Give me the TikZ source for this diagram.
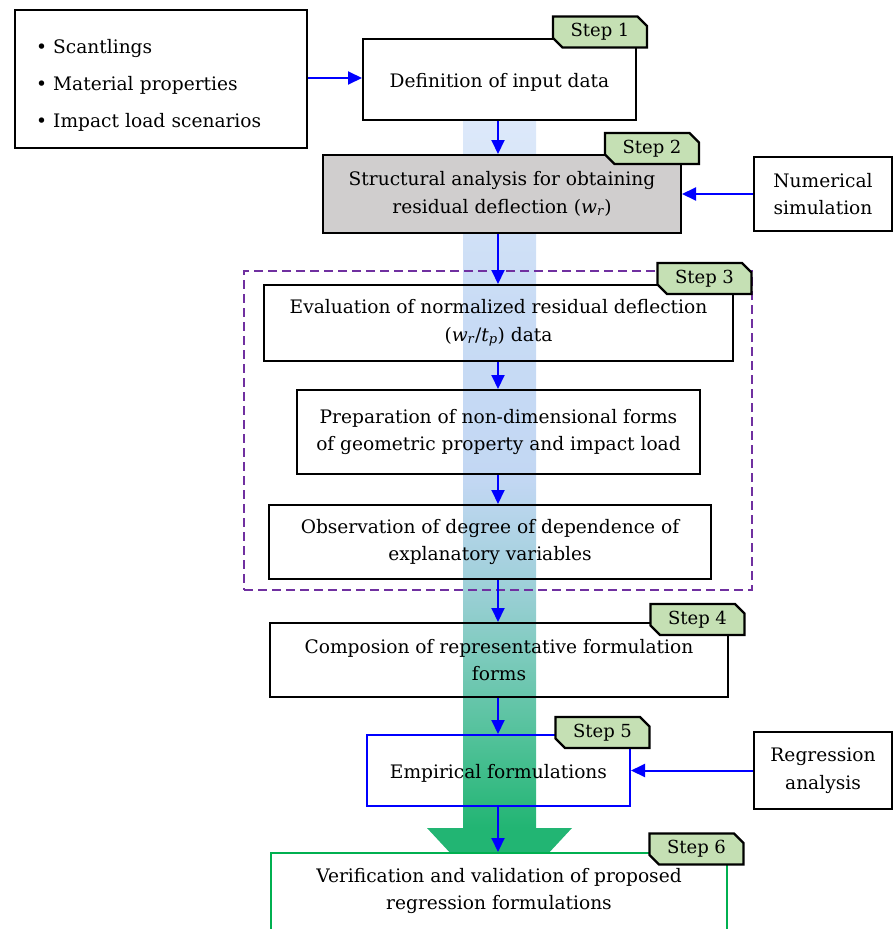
\documentclass[tikz,border=0pt]{standalone}
\usepackage{fontspec}
\setmainfont{DejaVu Serif}
\usetikzlibrary{positioning, arrows.meta, calc, shapes.misc}
\definecolor{flowTop}{HTML}{DDE9FA}
\definecolor{flowSky}{HTML}{C9DCF5}
\definecolor{flowBlue}{HTML}{C2D7F3}
\definecolor{flowTeal}{HTML}{A0D0DA}
\definecolor{flowMint}{HTML}{80CBBF}
\definecolor{flowSea}{HTML}{4CC095}
\definecolor{flowGreen}{HTML}{22B573}
\definecolor{boxGray}{HTML}{D0CECE}
\definecolor{tagGreen}{HTML}{C5E0B4}
\definecolor{groupPurple}{HTML}{7030A0}
\definecolor{lineBlue}{HTML}{0000FF}
\definecolor{lineGreen}{HTML}{00B050}
\pgfdeclareverticalshading{flowshade}{100bp}{color(0bp)=(flowGreen); color(30bp)=(flowGreen);
  color(35bp)=(flowSea); color(41.3bp)=(flowMint); color(45.7bp)=(flowTeal);
  color(52bp)=(flowBlue); color(63.5bp)=(flowSky); color(75bp)=(flowTop); color(100bp)=(flowTop)}
\newcommand{\flowfont}{\fontsize{18.6}{27.5}\selectfont}
\newcommand{\tagfont}{\fontsize{18}{22}\selectfont}
\tikzset{
  stepbox/.style={
    draw=black, line width=2pt, align=center, font=\flowfont,
    execute at begin node={\rule{0pt}{20pt}},
  },
  listbox/.style={
    draw=black, line width=2pt, align=left, text width=250pt, inner xsep=21pt,
    font=\fontsize{18.6}{37}\selectfont,
  },
  steptag/.style={
    chamfered rectangle, chamfered rectangle corners={north east, south west},
    chamfered rectangle xsep=6pt, draw=black, fill=tagGreen, line width=2.3pt,
    minimum width=94pt, minimum height=31pt, inner sep=0pt, font=\tagfont,
  },
  groupbox/.style={
    draw=groupPurple, line width=2pt, dash pattern=on 9pt off 5pt,
  },
  flowarrow/.style={
    -{Triangle[length=14pt, width=13pt]}, line width=2pt, color=lineBlue,
  },
}

\begin{document}
\begin{tikzpicture}[x=1pt, y=-1pt]
  \useasboundingbox (0,0) rectangle (894,929);

  % === Background flow arrow ===
  \shade[shading=flowshade] (463,119) -- (536,119) -- (536,828) -- (572,828)
    -- (499.5,906) -- (427,828) -- (463,828) -- cycle;
  \coordinate (axis) at (498,0);

  % === Input data ===
  \node[listbox, minimum width=292pt, minimum height=138pt] (inputs) at (161,79)
    {\rule{0pt}{26pt}\textbullet\ Scantlings\\ \textbullet\ Material properties\\ \textbullet\ Impact load scenarios};
  \node[stepbox, minimum width=273pt, minimum height=81pt] (inputData) at (499.5,79) {Definition of input data};

  % === Structural analysis ===
  \node[stepbox, fill=boxGray, minimum width=358pt, minimum height=78pt] (analysis) at (502,194)
    {Structural analysis for obtaining\\residual deflection (\textit{w}\textsubscript{\textit{r}})};
  \node[stepbox, minimum width=138pt, minimum height=74pt] (numerical) at (823,194) {Numerical\\simulation};

  % === Step 3 group ===
  \node[groupbox, minimum width=508pt, minimum height=319pt] (stepGroup) at (498,430.5) {};
  \node[stepbox, minimum width=469pt, minimum height=76pt] (normalized) at (498.5,323)
    {Evaluation of normalized residual deflection\\(\textit{w}\textsubscript{\textit{r}}/\textit{t}\textsubscript{\textit{p}}) data};
  \node[stepbox, minimum width=403pt, minimum height=84pt] (nondim) at (498.5,432)
    {Preparation of non-dimensional forms\\of geometric property and impact load};
  \node[stepbox, minimum width=442pt, minimum height=74pt] (dependence) at (490,542)
    {Observation of degree of dependence of\\explanatory variables};

  % === Formulation ===
  \node[stepbox, minimum width=458pt, minimum height=74pt] (composition) at (499,660)
    {Composion of representative formulation\\forms};
  \node[stepbox, draw=lineBlue, minimum width=263pt, minimum height=71pt] (empirical) at (498.5,770.5)
    {Empirical formulations};
  \node[stepbox, minimum width=138pt, minimum height=77pt] (regression) at (823,770.5) {Regression\\analysis};

  % === Verification (cut by the page edge) ===
  \node[stepbox, draw=lineGreen, fill=white, minimum width=456pt, minimum height=100pt, anchor=north]
    (verify) at (499,852) {};
  \node[font=\flowfont, align=center] (verifyText) at (499,891)
    {Verification and validation of proposed\\regression formulations};

  % === Step tags ===
  \node[steptag] (tag1) at (600,32) {Step 1};
  \node[steptag] (tag2) at (652,148.5) {Step 2};
  \node[steptag] (tag3) at (704.5,278.5) {Step 3};
  \node[steptag] (tag4) at (697.5,619.5) {Step 4};
  \node[steptag] (tag5) at (602.5,732.5) {Step 5};
  \node[steptag] (tag6) at (696.5,849) {Step 6};

  % === Arrows ===
  \draw[flowarrow] (inputs.east |- 0,78) -- (inputData.west |- 0,78);
  \draw[flowarrow] (axis |- inputData.south) -- (axis |- analysis.north);
  \draw[flowarrow] (numerical.west) -- (analysis.east);
  \draw[flowarrow] (axis |- analysis.south) -- (axis |- normalized.north);
  \draw[flowarrow] (axis |- normalized.south) -- (axis |- nondim.north);
  \draw[flowarrow] (axis |- nondim.south) -- (axis |- dependence.north);
  \draw[flowarrow] (axis |- dependence.south) -- (axis |- composition.north);
  \draw[flowarrow] (axis |- composition.south) -- (axis |- empirical.north);
  \draw[flowarrow] (regression.west) -- (empirical.east);
  \draw[flowarrow] (axis |- empirical.south) -- (axis |- verify.north);

\end{tikzpicture}
\end{document}
